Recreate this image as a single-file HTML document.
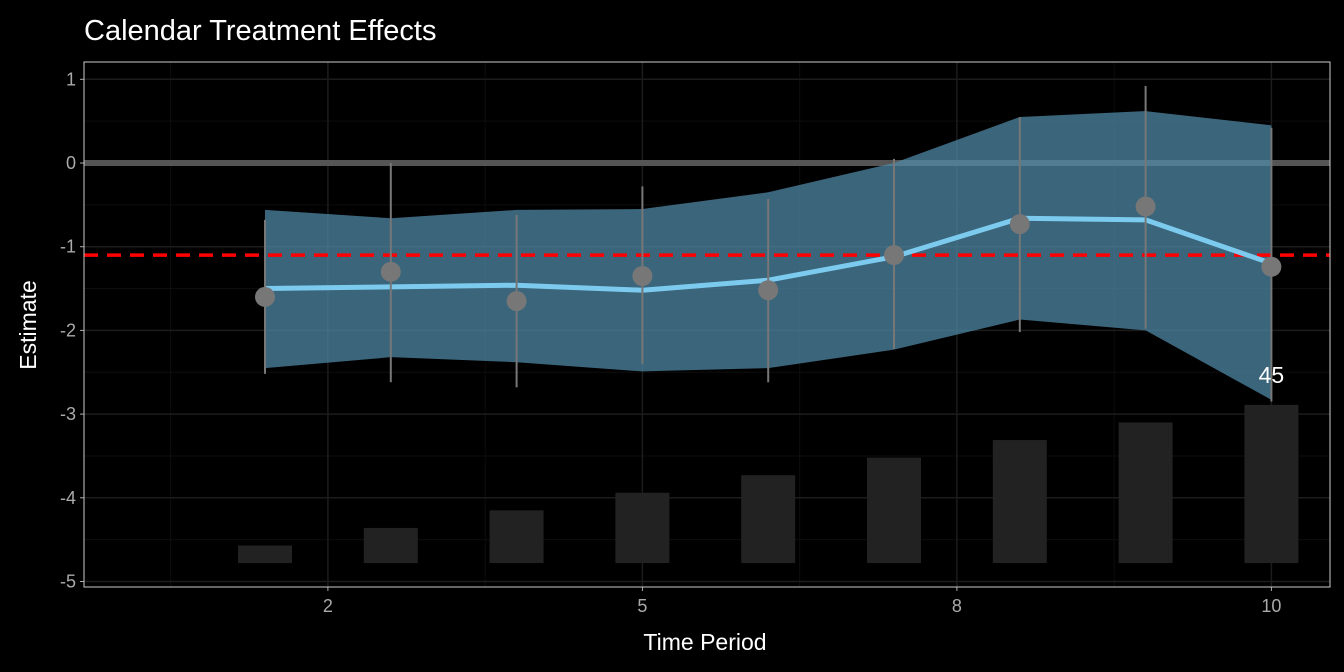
<!DOCTYPE html>
<html><head><meta charset="utf-8"><style>
html,body{margin:0;padding:0;background:#000;}
svg{display:block;font-family:"Liberation Sans",Arial,sans-serif;}
</style></head><body>
<svg id="chart" width="1344" height="672" viewBox="0 0 1344 672">
<rect width="1344" height="672" fill="#000"/>
<text x="84" y="40" fill="#fff" font-size="29">Calendar Treatment Effects</text>
<g id="grid"></g><g id="bars"></g><g id="series"></g><g id="labels"></g><g id="axes"></g>
<rect x="84" y="62" width="1246" height="525" fill="none" stroke="#ccc" stroke-width="1"/>
<text x="705" y="650" fill="#fff" font-size="23" text-anchor="middle">Time Period</text>
<text transform="translate(36,325) rotate(-90)" fill="#fff" font-size="23" text-anchor="middle">Estimate</text>
</svg>
<script>
const periods=[2,3,4,5,6,7,8,9,10];
const estimates=[-1.6,-1.3,-1.65,-1.35,-1.52,-1.1,-0.73,-0.52,-1.24];
const ciLow=[-2.52,-2.62,-2.68,-2.4,-2.62,-2.22,-2.02,-1.98,-2.85];
const ciHigh=[-0.68,0.0,-0.62,-0.28,-0.43,0.05,0.55,0.92,0.42];
const smooth=[-1.5,-1.48,-1.46,-1.52,-1.4,-1.12,-0.66,-0.68,-1.2];
const bandHigh=[-0.56,-0.66,-0.56,-0.55,-0.35,0.0,0.55,0.62,0.45];
const bandLow=[-2.45,-2.32,-2.38,-2.49,-2.45,-2.23,-1.87,-2.0,-2.83];
const counts=[5,10,15,20,25,30,35,40,45];
const avgEffect=-1.1;
const xTickVals=[2.5,5,7.5,10];
const xTickLabels=["2","5","8","10"];
const xMinorVals=[1.25,3.75,6.25,8.75];
const yTickVals=[1,0,-1,-2,-3,-4,-5];
const yTickLabels=["1","0","-1","-2","-3","-4","-5"];
const yMinorVals=[0.5,-0.5,-1.5,-2.5,-3.5,-4.5];

const NS="http://www.w3.org/2000/svg";
const X=p=>265+(p-2)*125.8;
const Y=v=>163-v*83.7;
const barBase=-4.78, barMax=Math.max(...counts), barMaxH=-2.89-barBase;
function mk(tag,attrs,parent){const e=document.createElementNS(NS,tag);for(const k in attrs)e.setAttribute(k,attrs[k]);document.getElementById(parent).appendChild(e);return e;}

yMinorVals.forEach(v=>{const e=mk('line',{x1:84,x2:1330,y1:Y(v),y2:Y(v),stroke:'#0e0e0e','stroke-width':1},'grid');

});
xMinorVals.forEach(v=>{const e=mk('line',{x1:X(v),x2:X(v),y1:62,y2:587,stroke:'#0e0e0e','stroke-width':1},'grid');

});
yTickVals.forEach((v,i)=>{const e=mk('line',{x1:84,x2:1330,y1:Y(v),y2:Y(v),stroke:'#1c1c1c','stroke-width':1.5},'grid');


const t=mk('text',{x:76,y:Y(v)+6,fill:'#aaa','font-size':18,'text-anchor':'end'},'axes');t.textContent=yTickLabels[i];


const k=mk('line',{x1:80,x2:84,y1:Y(v),y2:Y(v),stroke:'#aaa'},'axes');

});
xTickVals.forEach((v,i)=>{const e=mk('line',{x1:X(v),x2:X(v),y1:62,y2:587,stroke:'#1c1c1c','stroke-width':1.5},'grid');


const t=mk('text',{x:X(v),y:612,fill:'#aaa','font-size':18,'text-anchor':'middle'},'axes');t.textContent=xTickLabels[i];


const k=mk('line',{x1:X(v),x2:X(v),y1:587,y2:591,stroke:'#aaa'},'axes');

});

periods.forEach((p,i)=>{const top=barBase+counts[i]/barMax*barMaxH;
const b=mk('rect',{x:X(p)-27,y:Y(top),width:54,height:Y(barBase)-Y(top),fill:'#222'},'bars');

});
const li=counts.length-1;
const lt=mk('text',{x:X(periods[li]),y:Y(barBase+barMaxH)-22,fill:'#fff','font-size':23,'text-anchor':'middle'},'labels');lt.textContent=String(counts[li]);



const z=mk('line',{x1:84,x2:1330,y1:Y(0),y2:Y(0),stroke:'#555','stroke-width':6},'series');


let pts=periods.map((p,i)=>X(p)+','+Y(bandHigh[i])).concat(periods.slice().reverse().map((p,j)=>X(p)+','+Y(bandLow[periods.length-1-j])));
const band=mk('polygon',{points:pts.join(' '),fill:'rgba(80,140,170,0.72)'},'series');


const avg=mk('line',{x1:84,x2:1330,y1:Y(avgEffect),y2:Y(avgEffect),stroke:'#f00','stroke-width':3.5,'stroke-dasharray':'14,9'},'series');


const sl=mk('polyline',{points:periods.map((p,i)=>X(p)+','+Y(smooth[i])).join(' '),fill:'none',stroke:'#7ccbef','stroke-width':5,'stroke-linejoin':'round'},'series');


periods.forEach((p,i)=>{const e=mk('line',{x1:X(p),x2:X(p),y1:Y(ciLow[i]),y2:Y(ciHigh[i]),stroke:'#777','stroke-width':2},'series');


const c=mk('circle',{cx:X(p),cy:Y(estimates[i]),r:10,fill:'#777'},'series');

});
</script>
</body></html>
